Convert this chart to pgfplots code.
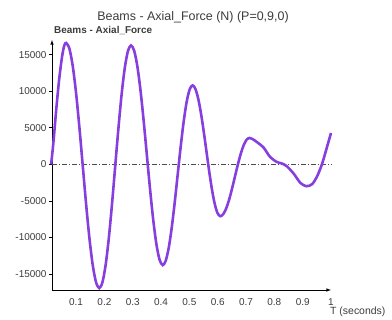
\documentclass[border=0pt]{standalone}
\usepackage{pgfplots}
\pgfplotsset{compat=1.18}
\usepackage{fontspec}
\setmainfont{Liberation Sans}
\definecolor{curve}{RGB}{135,62,222}
\definecolor{txt}{RGB}{60,60,60}
\begin{document}
\begin{tikzpicture}
\begin{axis}[
  scale only axis,
  width=279bp, height=250bp,
  xmin=0.015, xmax=1.0,
  ymin=-17200, ymax=17000,
  axis lines=left,
  axis line style={black, line width=0.6pt, -latex},
  scaled ticks=false,
  xtick={0.1,0.2,0.3,0.4,0.5,0.6,0.7,0.8,0.9,1},
  xticklabels={0.1,0.2,0.3,0.4,0.5,0.6,0.7,0.8,0.9,1},
  ytick={-15000,-10000,-5000,0,5000,10000,15000},
  yticklabels={-15000,-10000,-5000,0,5000,10000,15000},
  x tick style={draw=none},
  y tick style={black, line width=0.5pt},
  tick align=outside,
  major tick length=3bp,
  ticklabel style={font=\fontsize{10}{11}\selectfont, text=txt},
  xticklabel style={yshift=-2bp},
  yticklabel style={xshift=1bp},
  clip=false,
]
\addplot[black!70, dash pattern=on 5pt off 2pt on 1pt off 2pt, line width=0.6pt, forget plot] coordinates {(0.015,0) (1.0,0)};
\addplot[curve, line width=2.6pt, smooth, tension=0.5] coordinates {
(0.012,0) (0.02,3000) (0.03,7500) (0.04,11500) (0.05,14600) (0.058,16200) (0.065,16600)
(0.0767,15779) (0.0884,13397) (0.1001,9691) (0.1118,5012) (0.1235,-170) (0.1352,-5352)
(0.1469,-10031) (0.1586,-13737) (0.1703,-16119) (0.182,-16940)
(0.1932,-16126) (0.2044,-13770) (0.2156,-10101) (0.2268,-5471) (0.238,-342)
(0.2492,4786) (0.2604,9417) (0.2716,13085) (0.2828,15442) (0.294,16255)
(0.3052,15519) (0.3164,13385) (0.3276,10064) (0.3388,5872) (0.35,1228)
(0.3612,-3416) (0.3724,-7608) (0.3836,-10929) (0.3948,-13063) (0.406,-13800)
(0.4165,-13198) (0.427,-11452) (0.4375,-8734) (0.448,-5304) (0.4585,-1505)
(0.469,2294) (0.4795,5724) (0.49,8442) (0.5005,10188) (0.511,10790)
(0.5208,10352) (0.5306,9082) (0.5404,7105) (0.5502,4609) (0.56,1845)
(0.5698,-919) (0.5796,-3415) (0.5894,-5392) (0.5992,-6662) (0.609,-7100)
(0.6193,-6838) (0.6296,-6078) (0.6399,-4896) (0.6502,-3403) (0.6605,-1750)
(0.6708,-97) (0.6811,1396) (0.6914,2578) (0.7017,3338) (0.712,3600)
(0.725,3400) (0.738,3050) (0.762,2280) (0.785,1000) (0.809,310) (0.827,100)
(0.844,-270) (0.868,-1270) (0.892,-2550) (0.913,-3000) (0.933,-2730)
(0.950,-1730) (0.968,0) (0.986,2370) (1.0,4280)
};
\end{axis}
\path ([shift={(-52bp,-30bp)}]current axis.south west) rectangle ([shift={(61bp,40bp)}]current axis.north east);
\node[text=txt, font=\fontsize{12.5}{14}\selectfont] at ([shift={(141bp,273bp)}]current axis.south west) {Beams - Axial\_Force (N) (P=0,9,0)};
\node[text=txt, font=\fontsize{10}{11}\selectfont\bfseries, anchor=west, inner sep=0pt] at ([shift={(2bp,259bp)}]current axis.south west) {Beams - Axial\_Force};
\node[text=txt, font=\fontsize{10.5}{11}\selectfont, anchor=west, inner sep=0pt] at ([shift={(278bp,-22bp)}]current axis.south west) {T (seconds)};
\end{tikzpicture}
\end{document}
